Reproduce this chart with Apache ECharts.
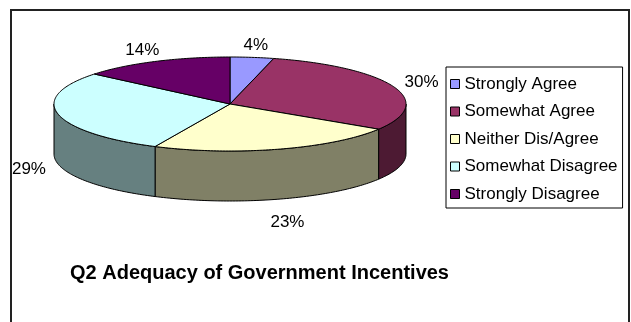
<!DOCTYPE html>
<html>
<head>
<meta charset="utf-8">
<script src="https://cdn.jsdelivr.net/npm/echarts@6/dist/echarts.min.js"></script>
<style>
  html, body { margin: 0; padding: 0; background: #fff; }
  #chart { width: 631px; height: 322px; }
</style>
</head>
<body>
<div id="chart"></div>
<script>
// Survey answers and their shares (percent)
const categories = ['Strongly Agree', 'Somewhat Agree', 'Neither Dis/Agree', 'Somewhat Disagree', 'Strongly Disagree'];
const shares = [4, 30, 23, 29, 14];
const topColors = ['#9999FF', '#993366', '#FFFFCC', '#CCFFFF', '#660066'];
const sideColors = ['#4D4D80', '#4D1A33', '#808066', '#668080', '#330033'];
const titleText = 'Q2 Adequacy of Government Incentives';

// Tilted-disc geometry
const CX = 230, CY = 104, RX = 176, RY = 47, DEPTH = 50;
const FONT = '"Liberation Sans", Arial, sans-serif';

const total = shares.reduce((a, b) => a + b, 0);
const starts = [];
shares.reduce((acc, v, i) => { starts[i] = acc; return acc + v; }, 0);

const pieData = categories.map((name, i) => ({ name, value: [shares[i], starts[i]] }));

function rimPoint(deg, dy) {
  const t = deg * Math.PI / 180;
  return [CX + RX * Math.sin(t), CY - RY * Math.cos(t) + (dy || 0)];
}
function sliceAngles(api) {
  const v = api.value(0), s = api.value(1);
  return [s / total * 360, (s + v) / total * 360];
}

// Front walls of the disc (only the half facing the viewer)
function renderWall(params, api) {
  const [a1, a2] = sliceAngles(api);
  const b1 = Math.max(a1, 90), b2 = Math.min(a2, 270);
  if (b1 >= b2) return { type: 'group', children: [] };
  const pts = [];
  for (let d = b1; d < b2; d += 1) pts.push(rimPoint(d));
  pts.push(rimPoint(b2));
  for (let d = b2; d > b1; d -= 1) pts.push(rimPoint(d, DEPTH));
  pts.push(rimPoint(b1, DEPTH));
  return {
    type: 'polygon',
    shape: { points: pts },
    style: { fill: sideColors[params.dataIndex], stroke: '#000', lineWidth: 1 }
  };
}

// Top faces plus outside percentage labels
function renderTop(params, api) {
  const [a1, a2] = sliceAngles(api);
  const pts = [[CX, CY]];
  for (let d = a1; d < a2; d += 1) pts.push(rimPoint(d));
  pts.push(rimPoint(a2));
  const mid = (a1 + a2) / 2 * Math.PI / 180;
  const s = Math.sin(mid), c = Math.cos(mid);
  const lx = CX + (RX + 30) * s;
  const ly = c >= 0
    ? CY - (RY + 12) * c
    : CY - (RY + 24) * c + DEPTH;
  return {
    type: 'group',
    children: [
      {
        type: 'polygon',
        shape: { points: pts },
        style: { fill: topColors[params.dataIndex], stroke: '#000', lineWidth: 1 }
      },
      {
        type: 'text',
        x: lx, y: ly,
        style: {
          text: api.value(0) + '%',
          fill: '#000',
          font: '17px ' + FONT,
          align: 'center',
          verticalAlign: 'middle'
        }
      }
    ]
  };
}

const chart = echarts.init(document.getElementById('chart'), null, { renderer: 'canvas' });
chart.setOption({
  backgroundColor: '#fff',
  animation: false,
  title: {
    text: titleText,
    left: 70,
    top: 263,
    padding: 0,
    textStyle: { fontSize: 20, fontWeight: 'bold', fontFamily: FONT, color: '#000' }
  },
  legend: {
    orient: 'vertical',
    left: 446,
    top: 67,
    selectedMode: false,
    icon: 'rect',
    itemWidth: 9,
    itemHeight: 9,
    itemGap: 10.5,
    padding: [8.5, 5, 5.5, 4],
    borderColor: '#000',
    borderWidth: 1,
    itemStyle: { borderColor: '#000', borderWidth: 1 },
    textStyle: { fontSize: 17, fontFamily: FONT, color: '#000', lineHeight: 17 },
    data: categories
  },
  graphic: [{
    type: 'rect',
    shape: { x: 11, y: 10, width: 618, height: 340 },
    style: { fill: null, stroke: '#222', lineWidth: 2 },
    silent: true
  }],
  series: [
    {
      // zero-radius pie: supplies the per-category legend entries
      type: 'pie',
      name: 'legend',
      radius: [0, 0],
      silent: true,
      label: { show: false },
      labelLine: { show: false },
      data: categories.map((name, i) => ({ name, value: shares[i], itemStyle: { color: topColors[i] } }))
    },
    {
      type: 'custom',
      name: 'walls',
      coordinateSystem: 'none',
      silent: true,
      z: 1,
      renderItem: renderWall,
      data: pieData
    },
    {
      type: 'custom',
      name: 'tops',
      coordinateSystem: 'none',
      silent: true,
      z: 2,
      renderItem: renderTop,
      data: pieData
    }
  ]
});
</script>
</body>
</html>
